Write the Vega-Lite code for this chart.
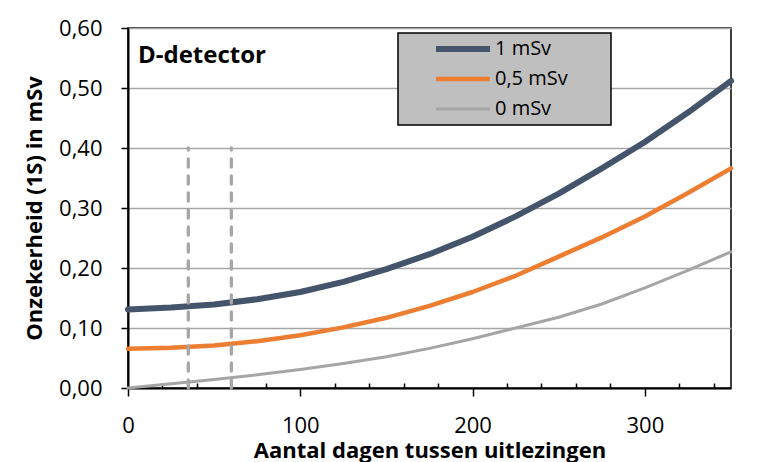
{
  "$schema": "https://vega.github.io/schema/vega-lite/v6.json",
  "width": 603,
  "height": 360,
  "autosize": "none",
  "padding": {"left": 128, "top": 28, "right": 30, "bottom": 74},
  "background": "white",
  "title": {
    "text": "D-detector",
    "anchor": "start",
    "frame": "group",
    "dx": 10,
    "offset": -70,
    "baseline": "alphabetic",
    "font": "Open Sans",
    "fontSize": 24,
    "fontWeight": "bold",
    "color": "black"
  },
  "config": {
    "font": "Open Sans",
    "view": {"stroke": "black", "strokeWidth": 1.5},
    "axis": {
      "domainColor": "black",
      "domainWidth": 2,
      "tickColor": "black",
      "tickWidth": 1.5,
      "labelColor": "black",
      "labelFont": "Open Sans",
      "labelFontSize": 22,
      "titleFont": "Open Sans",
      "titleFontSize": 22,
      "titleFontWeight": "bold",
      "titleColor": "black",
      "labelOverlap": false
    },
    "axisX": {"labelOverlap": false, "labelFlush": false},
    "legend": {
      "orient": "none",
      "legendX": 270,
      "legendY": 5,
      "fillColor": "#BFBFBF",
      "strokeColor": "black",
      "strokeWidth": 1.5,
      "padding": 6,
      "symbolType": "stroke",
      "symbolSize": 2916,
      "symbolOpacity": 1,
      "symbolOffset": 29,
      "clipHeight": 20,
      "rowPadding": 10,
      "labelFont": "Open Sans",
      "labelFontSize": 20,
      "labelColor": "black",
      "labelOffset": 2,
      "labelLimit": 400,
      "titleOrient": "right",
      "titlePadding": 37,
      "titleFontSize": 20
    }
  },
  "datasets": {
    "curves": [
      {"dagen": 0, "reeks": "1 mSv", "onzekerheid": 0.131},
      {"dagen": 25, "reeks": "1 mSv", "onzekerheid": 0.134},
      {"dagen": 50, "reeks": "1 mSv", "onzekerheid": 0.139},
      {"dagen": 75, "reeks": "1 mSv", "onzekerheid": 0.148},
      {"dagen": 100, "reeks": "1 mSv", "onzekerheid": 0.160},
      {"dagen": 125, "reeks": "1 mSv", "onzekerheid": 0.177},
      {"dagen": 150, "reeks": "1 mSv", "onzekerheid": 0.198},
      {"dagen": 175, "reeks": "1 mSv", "onzekerheid": 0.223},
      {"dagen": 200, "reeks": "1 mSv", "onzekerheid": 0.252},
      {"dagen": 225, "reeks": "1 mSv", "onzekerheid": 0.286},
      {"dagen": 250, "reeks": "1 mSv", "onzekerheid": 0.324},
      {"dagen": 275, "reeks": "1 mSv", "onzekerheid": 0.366},
      {"dagen": 300, "reeks": "1 mSv", "onzekerheid": 0.410},
      {"dagen": 325, "reeks": "1 mSv", "onzekerheid": 0.459},
      {"dagen": 350, "reeks": "1 mSv", "onzekerheid": 0.512},
      {"dagen": 0, "reeks": "0,5 mSv", "onzekerheid": 0.0655},
      {"dagen": 25, "reeks": "0,5 mSv", "onzekerheid": 0.067},
      {"dagen": 50, "reeks": "0,5 mSv", "onzekerheid": 0.071},
      {"dagen": 75, "reeks": "0,5 mSv", "onzekerheid": 0.078},
      {"dagen": 100, "reeks": "0,5 mSv", "onzekerheid": 0.088},
      {"dagen": 125, "reeks": "0,5 mSv", "onzekerheid": 0.101},
      {"dagen": 150, "reeks": "0,5 mSv", "onzekerheid": 0.117},
      {"dagen": 175, "reeks": "0,5 mSv", "onzekerheid": 0.137},
      {"dagen": 200, "reeks": "0,5 mSv", "onzekerheid": 0.160},
      {"dagen": 225, "reeks": "0,5 mSv", "onzekerheid": 0.187},
      {"dagen": 250, "reeks": "0,5 mSv", "onzekerheid": 0.219},
      {"dagen": 275, "reeks": "0,5 mSv", "onzekerheid": 0.251},
      {"dagen": 300, "reeks": "0,5 mSv", "onzekerheid": 0.286},
      {"dagen": 325, "reeks": "0,5 mSv", "onzekerheid": 0.325},
      {"dagen": 350, "reeks": "0,5 mSv", "onzekerheid": 0.366},
      {"dagen": 0, "reeks": "0 mSv", "onzekerheid": 0.0},
      {"dagen": 25, "reeks": "0 mSv", "onzekerheid": 0.007},
      {"dagen": 50, "reeks": "0 mSv", "onzekerheid": 0.014},
      {"dagen": 75, "reeks": "0 mSv", "onzekerheid": 0.022},
      {"dagen": 100, "reeks": "0 mSv", "onzekerheid": 0.031},
      {"dagen": 125, "reeks": "0 mSv", "onzekerheid": 0.041},
      {"dagen": 150, "reeks": "0 mSv", "onzekerheid": 0.052},
      {"dagen": 175, "reeks": "0 mSv", "onzekerheid": 0.066},
      {"dagen": 200, "reeks": "0 mSv", "onzekerheid": 0.082},
      {"dagen": 225, "reeks": "0 mSv", "onzekerheid": 0.100},
      {"dagen": 250, "reeks": "0 mSv", "onzekerheid": 0.118},
      {"dagen": 275, "reeks": "0 mSv", "onzekerheid": 0.140},
      {"dagen": 300, "reeks": "0 mSv", "onzekerheid": 0.167},
      {"dagen": 325, "reeks": "0 mSv", "onzekerheid": 0.196},
      {"dagen": 350, "reeks": "0 mSv", "onzekerheid": 0.227}
    ],
    "markers": [
      {"dag": 35, "van": 0, "tot": 0.4},
      {"dag": 60, "van": 0, "tot": 0.4}
    ]
  },
  "layer": [
    {
      "data": {"name": "curves"},
      "mark": {"type": "line", "strokeCap": "round", "strokeJoin": "round"},
      "encoding": {
        "x": {
          "field": "dagen",
          "type": "quantitative",
          "scale": {"domain": [0, 350], "nice": false, "zero": false},
          "axis": {
            "title": "Aantal dagen tussen uitlezingen",
            "grid": false,
            "values": [0, 20, 40, 60, 80, 100, 120, 140, 160, 180, 200, 220, 240, 260, 280, 300, 320, 340],
            "tickCount": 40,
            "labelExpr": "datum.value % 100 === 0 ? datum.label : ''",
            "labelOverlap": false,
            "labelFlush": false,
            "tickSize": {"condition": {"test": "datum.value % 100 === 0", "value": 8}, "value": -5},
            "labelPadding": 19,
            "titlePadding": 4
          }
        },
        "y": {
          "field": "onzekerheid",
          "type": "quantitative",
          "scale": {"domain": [0, 0.6], "nice": false},
          "axis": {
            "title": "Onzekerheid (1S) in mSv",
            "values": [0, 0.1, 0.2, 0.3, 0.4, 0.5, 0.6],
            "labelExpr": "replace(format(datum.value, '.2f'), '.', ',')",
            "grid": true,
            "gridColor": "#A6A6A6",
            "gridWidth": 1.5,
            "tickSize": 7,
            "labelPadding": 19,
            "titlePadding": 12,
            "labelFlush": false
          }
        },
        "color": {
          "field": "reeks",
          "type": "nominal",
          "sort": ["1 mSv", "0,5 mSv", "0 mSv"],
          "scale": {"domain": ["1 mSv", "0,5 mSv", "0 mSv"], "range": ["#44546A", "#ED7D31", "#A5A5A5"]},
          "legend": {"title": " "}
        },
        "strokeWidth": {
          "field": "reeks",
          "type": "nominal",
          "sort": ["1 mSv", "0,5 mSv", "0 mSv"],
          "scale": {"domain": ["1 mSv", "0,5 mSv", "0 mSv"], "range": [6, 3, 3]},
          "legend": {"title": " "}
        }
      }
    },
    {
      "data": {"name": "markers"},
      "mark": {"type": "rule", "color": "#A6A6A6", "strokeWidth": 3.3, "strokeDash": [8, 9], "strokeCap": "round"},
      "encoding": {
        "x": {"field": "dag", "type": "quantitative"},
        "y": {"field": "van", "type": "quantitative"},
        "y2": {"field": "tot"}
      }
    }
  ]
}
